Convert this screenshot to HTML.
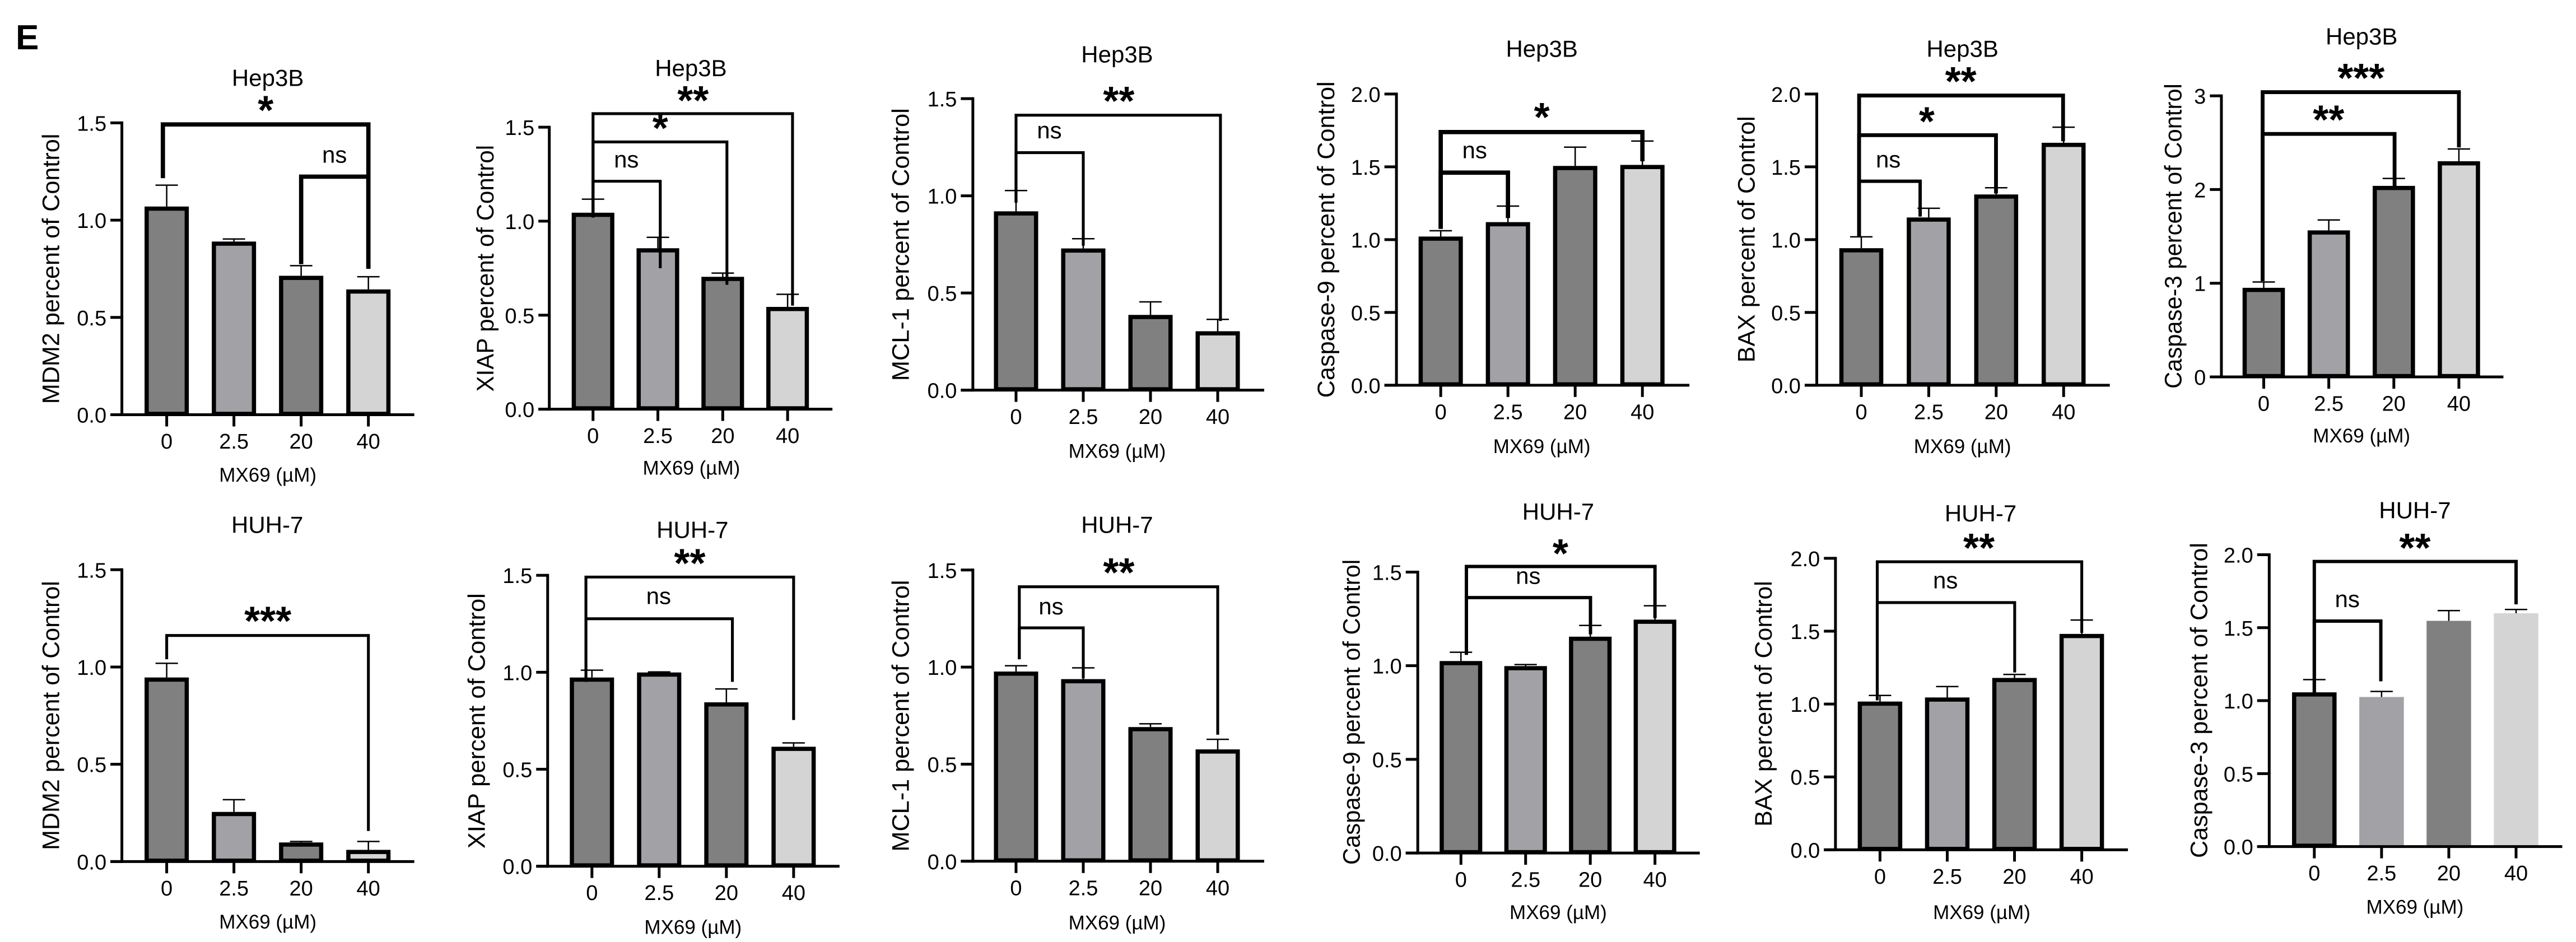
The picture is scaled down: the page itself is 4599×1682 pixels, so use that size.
<!DOCTYPE html>
<html lang="en">
<head>
<meta charset="utf-8">
<title>MX69 protein expression bar charts</title>
<style>
html,body{margin:0;padding:0;background:#fff;}
svg{display:block;}
text{font-family:"Liberation Sans",sans-serif;fill:#000;}
</style>
</head>
<body>
<svg id="figure" xmlns="http://www.w3.org/2000/svg" width="4599" height="1682" viewBox="0 0 4599 1682">
<rect x="0" y="0" width="4599" height="1682" fill="#ffffff"/>
<text x="28" y="88" font-size="62" font-weight="700">E</text>
</svg>
<script>
/* ---------- chart data ---------- */
const categories = ['0', '2.5', '20', '40'];
const ticks15 = ['0.0', '0.5', '1.0', '1.5'];
const ticks20 = ['0.0', '0.5', '1.0', '1.5', '2.0'];
const ticks3 = ['0', '1', '2', '3'];

const mdm2Hep3bValues = [1.07, 0.89, 0.714, 0.644];
const mdm2Hep3bErrors = [0.11, 0.013, 0.052, 0.065];
const xiapHep3bValues = [1.045, 0.856, 0.704, 0.544];
const xiapHep3bErrors = [0.072, 0.058, 0.02, 0.067];
const mcl1Hep3bValues = [0.92, 0.729, 0.387, 0.303];
const mcl1Hep3bErrors = [0.107, 0.05, 0.067, 0.061];
const casp9Hep3bValues = [1.021, 1.12, 1.506, 1.513];
const casp9Hep3bErrors = [0.04, 0.11, 0.129, 0.164];
const baxHep3bValues = [0.941, 1.152, 1.31, 1.665];
const baxHep3bErrors = [0.078, 0.063, 0.046, 0.107];
const casp3Hep3bValues = [0.951, 1.564, 2.039, 2.302];
const casp3Hep3bErrors = [0.062, 0.111, 0.079, 0.131];

const mdm2Huh7Values = [0.946, 0.255, 0.098, 0.06];
const mdm2Huh7Errors = [0.073, 0.063, 0.005, 0.043];
const xiapHuh7Values = [0.973, 0.999, 0.845, 0.616];
const xiapHuh7Errors = [0.038, 0.003, 0.069, 0.02];
const mcl1Huh7Values = [0.977, 0.938, 0.691, 0.576];
const mcl1Huh7Errors = [0.03, 0.058, 0.017, 0.052];
const casp9Huh7Values = [1.025, 0.998, 1.155, 1.246];
const casp9Huh7Errors = [0.047, 0.008, 0.06, 0.074];
const baxHuh7Values = [1.017, 1.045, 1.179, 1.481];
const baxHuh7Errors = [0.042, 0.075, 0.024, 0.095];
const casp3Huh7Values = [1.057, 1.025, 1.547, 1.599];
const casp3Huh7Errors = [0.087, 0.038, 0.07, 0.026];

const barFills = ['#808080', '#a1a1a6', '#808080', '#d4d4d4'];

/* ---------- layout frames (not data) ---------- */
const frames = {
  A: {ox: 0, oy: 0, sx: 0.9758, sy: 0.5485},
  B: {ox: 1530, oy: 0, sx: 0.9758, sy: 0.5485},
  C: {ox: 3060, oy: 0, sx: 0.9815, sy: 0.5485},
  D: {ox: 0, oy: 860, sx: 0.9758, sy: 0.5242},
  E: {ox: 1530, oy: 860, sx: 0.9758, sy: 0.5242},
  F: {ox: 3060, oy: 860, sx: 0.9815, sy: 0.5242}
};

const panels = [
  {id: 'mdm2-hep3b', f: 'A', title: 'Hep3B', yLabel: 'MDM2 percent of Control', values: mdm2Hep3bValues, errors: mdm2Hep3bErrors, ticks: ticks15, ymax: 1.5,
   ax: 223, tl: 202, y0: 1350, yt: 400, c0: 305, c3: 674, xEnd: 758, bw: 81, tb: 280, tx: 490, lb: 108, l1: 435, l2: 1315, xc: 490, xb: 1568,
   brackets: [[298, 674, 405, 580, 875, 9], [551, 674, 575, 860, 875, 9]],
   labels: [['*', 486, 342], ['ns', 612, 530]]},
  {id: 'xiap-hep3b', f: 'A', title: 'Hep3B', yLabel: 'XIAP percent of Control', values: xiapHep3bValues, errors: xiapHep3bErrors, ticks: ticks15, ymax: 1.5,
   ax: 1005, tl: 985, y0: 1332, yt: 414, c0: 1085, c3: 1441, xEnd: 1523, bw: 78, tb: 248, tx: 1264, lb: 903, l1: 472, l2: 1275, xc: 1265, xb: 1545,
   brackets: [[1085, 1450, 370, 708, 995, 6], [1085, 1330, 462, 708, 927, 6], [1085, 1208, 590, 708, 873, 6]],
   labels: [['**', 1268, 310], ['*', 1208, 400], ['ns', 1146, 545]]},
  {id: 'mcl1-hep3b', f: 'B', title: 'Hep3B', yLabel: 'MCL-1 percent of Control', values: mcl1Hep3bValues, errors: mcl1Hep3bErrors, ticks: ticks15, ymax: 1.5,
   ax: 212, tl: 190, y0: 1270, yt: 321, c0: 291, c3: 660, xEnd: 745, bw: 81, tb: 203, tx: 476, lb: 95, l1: 352, l2: 1240, xc: 476, xb: 1490,
   brackets: [[291, 665, 375, 660, 1045, 6], [291, 414, 497, 660, 800, 6]],
   labels: [['**', 479, 312], ['ns', 352, 450]]},
  {id: 'caspase9-hep3b', f: 'B', title: 'Hep3B', yLabel: 'Caspase-9 percent of Control', values: casp9Hep3bValues, errors: casp9Hep3bErrors, ticks: ticks20, ymax: 2,
   ax: 987, tl: 965, y0: 1254, yt: 306, c0: 1068, c3: 1437, xEnd: 1523, bw: 81, tb: 185, tx: 1253, lb: 873, l1: 265, l2: 1295, xc: 1253, xb: 1475,
   brackets: [[1068, 1437, 430, 745, 525, 9], [1068, 1191, 562, 745, 710, 9]],
   labels: [['*', 1253, 365], ['ns', 1130, 515]]},
  {id: 'bax-hep3b', f: 'C', title: 'Hep3B', yLabel: 'BAX percent of Control', values: baxHep3bValues, errors: baxHep3bErrors, ticks: ticks20, ymax: 2,
   ax: 187, tl: 165, y0: 1254, yt: 306, c0: 268, c3: 636, xEnd: 720, bw: 80, tb: 185, tx: 452, lb: 74, l1: 378, l2: 1180, xc: 452, xb: 1475,
   brackets: [[264, 635, 311, 770, 460, 8], [264, 513, 440, 770, 630, 8], [264, 375, 590, 770, 705, 7]],
   labels: [['**', 449, 248], ['*', 387, 378], ['ns', 317, 545]]},
  {id: 'caspase3-hep3b', f: 'C', title: 'Hep3B', yLabel: 'Caspase-3 percent of Control', values: casp3Hep3bValues, errors: casp3Hep3bErrors, ticks: ticks3, ymax: 3,
   ax: 923, tl: 902, y0: 1227, yt: 312, c0: 1000, c3: 1355, xEnd: 1436, bw: 77, tb: 145, tx: 1178, lb: 850, l1: 272, l2: 1265, xc: 1178, xb: 1440,
   brackets: [[998, 1355, 300, 915, 480, 8], [998, 1238, 436, 915, 615, 8]],
   labels: [['***', 1177, 237], ['**', 1118, 373]]},
  {id: 'mdm2-huh7', f: 'D', title: 'HUH-7', yLabel: 'MDM2 percent of Control', values: mdm2Huh7Values, errors: mdm2Huh7Errors, ticks: ticks15, ymax: 1.5,
   ax: 223, tl: 202, y0: 1294, yt: 300, c0: 305, c3: 674, xEnd: 758, bw: 81, tb: 175, tx: 489, lb: 108, l1: 338, l2: 1255, xc: 490, xb: 1522,
   brackets: [[305, 674, 524, 605, 1190, 6]],
   labels: [['***', 490, 457]]},
  {id: 'xiap-huh7', f: 'D', title: 'HUH-7', yLabel: 'XIAP percent of Control', values: xiapHuh7Values, errors: xiapHuh7Errors, ticks: ticks15, ymax: 1.5,
   ax: 1002, tl: 981, y0: 1310, yt: 319, c0: 1083, c3: 1452, xEnd: 1536, bw: 81, tb: 192, tx: 1267, lb: 887, l1: 380, l2: 1250, xc: 1268, xb: 1540,
   brackets: [[1072, 1452, 325, 682, 812, 6], [1072, 1340, 467, 682, 682, 6]],
   labels: [['**', 1262, 260], ['ns', 1205, 417]]},
  {id: 'mcl1-huh7', f: 'E', title: 'HUH-7', yLabel: 'MCL-1 percent of Control', values: mcl1Huh7Values, errors: mcl1Huh7Errors, ticks: ticks15, ymax: 1.5,
   ax: 212, tl: 190, y0: 1293, yt: 301, c0: 291, c3: 660, xEnd: 745, bw: 81, tb: 175, tx: 476, lb: 95, l1: 335, l2: 1260, xc: 476, xb: 1525,
   brackets: [[297, 660, 358, 605, 862, 6], [297, 414, 498, 605, 670, 6]],
   labels: [['**', 479, 292], ['ns', 355, 452]]},
  {id: 'caspase9-huh7', f: 'E', title: 'HUH-7', yLabel: 'Caspase-9 percent of Control', values: casp9Huh7Values, errors: casp9Huh7Errors, ticks: ticks15, ymax: 1.5,
   ax: 1026, tl: 1004, y0: 1265, yt: 308, c0: 1105, c3: 1460, xEnd: 1542, bw: 78, tb: 130, tx: 1283, lb: 920, l1: 265, l2: 1305, xc: 1283, xb: 1490,
   brackets: [[1115, 1460, 289, 590, 465, 7], [1115, 1342, 395, 590, 520, 7]],
   labels: [['*', 1287, 227], ['ns', 1228, 348]]},
  {id: 'bax-huh7', f: 'F', title: 'HUH-7', yLabel: 'BAX percent of Control', values: baxHuh7Values, errors: baxHuh7Errors, ticks: ticks20, ymax: 2,
   ax: 221, tl: 200, y0: 1254, yt: 261, c0: 302, c3: 669, xEnd: 753, bw: 81, tb: 135, tx: 485, lb: 105, l1: 338, l2: 1175, xc: 487, xb: 1490,
   brackets: [[297, 669, 273, 745, 515, 6], [297, 547, 412, 745, 650, 6]],
   labels: [['**', 482, 208], ['ns', 421, 363]]},
  {id: 'caspase3-huh7', f: 'F', title: 'HUH-7', yLabel: 'Caspase-3 percent of Control', values: casp3Huh7Values, errors: casp3Huh7Errors, ticks: ticks20, ymax: 2,
   ax: 1010, tl: 988, y0: 1243, yt: 249, c0: 1092, c3: 1459, xEnd: 1543, bw: 81, tb: 125, tx: 1275, lb: 897, l1: 208, l2: 1282, xc: 1275, xb: 1472,
   brackets: [[1092, 1459, 272, 720, 418, 7], [1092, 1213, 475, 720, 680, 7]],
   labels: [['**', 1275, 208], ['ns', 1152, 427]], outlineOnlyFirst: true}
];

/* ---------- drawing ---------- */
const NS = 'http://www.w3.org/2000/svg';
const root = document.getElementById('figure');
const BLACK = '#000000';

function make(parent, tag, attrs, txt) {
  const node = document.createElementNS(NS, tag);
  for (const k in attrs) node.setAttribute(k, attrs[k]);
  if (txt !== undefined) node.textContent = txt;
  parent.appendChild(node);
  return node;
}

panels.forEach(function (p) {
  const fr = frames[p.f];
  const X = function (z) { return fr.ox + z * fr.sx; };
  const Y = function (z) { return fr.oy + z * fr.sy; };
  const yScale = function (v) { return Y(p.y0) + (Y(p.yt) - Y(p.y0)) * v / p.ymax; };
  const xScale = function (i) { return X(p.c0) + i * (X(p.c3) - X(p.c0)) / (categories.length - 1); };
  const base = Y(p.y0);
  const axisX = X(p.ax);

  const g = make(root, 'g', {});
  
  

  const title = make(g, 'text', {x: X(p.tx), y: Y(p.tb), 'font-size': 42, 'text-anchor': 'middle'}, p.title);
  
  

  const ylMid = (Y(p.l1) + Y(p.l2)) / 2;
  const ylLen = Y(p.l2) - Y(p.l1);
  const yl = make(g, 'text', {
    transform: 'translate(' + X(p.lb) + ' ' + ylMid + ') rotate(-90)',
    'font-size': 43, 'text-anchor': 'middle', textLength: ylLen, lengthAdjust: 'spacingAndGlyphs'
  }, p.yLabel);
  
  

  const xl = make(g, 'text', {x: X(p.xc), y: Y(p.xb), 'font-size': 35, 'text-anchor': 'middle'}, 'MX69 (\u00B5M)');
  
  

  /* error bars sit behind the bars */
  categories.forEach(function (cat, i) {
    const cx = xScale(i);
    const top = yScale(p.values[i] + p.errors[i]);
    const stem = make(g, 'line', {x1: cx, x2: cx, y1: yScale(p.values[i]), y2: top, stroke: BLACK, 'stroke-width': 2.5});
    
    
    const cap = make(g, 'line', {x1: cx - 20, x2: cx + 20, y1: top, y2: top, stroke: BLACK, 'stroke-width': 2.5});
    
    
  });

  /* bars */
  const w = p.bw * fr.sx;
  const sw = 7.5;
  categories.forEach(function (cat, i) {
    const cx = xScale(i);
    const top = yScale(p.values[i]);
    const outlined = !p.outlineOnlyFirst || i === 0;
    const inset = outlined ? sw / 2 : 0;
    const bar = make(g, 'rect', {
      x: cx - w / 2 + inset, y: top + inset,
      width: w - 2 * inset, height: Math.max(0, base - top - inset - (outlined ? 1.5 : 0)),
      fill: barFills[i], stroke: outlined ? BLACK : 'none', 'stroke-width': outlined ? sw : 0
    });
    
    
  });

  /* axes */
  const yAxis = make(g, 'line', {x1: axisX, x2: axisX, y1: Y(p.yt) - 2.5, y2: base + 2.5, stroke: BLACK, 'stroke-width': 5});
  
  
  const xAxis = make(g, 'line', {x1: X(p.tl), x2: X(p.xEnd), y1: base, y2: base, stroke: BLACK, 'stroke-width': 5});
  
  

  p.ticks.forEach(function (label) {
    const ty = yScale(parseFloat(label));
    const t = make(g, 'line', {x1: X(p.tl), x2: axisX, y1: ty, y2: ty, stroke: BLACK, 'stroke-width': 5});
    
    
    const tl = make(g, 'text', {x: X(p.tl) - 7, y: ty + 14, 'font-size': 38, 'text-anchor': 'end'}, label);
    
    
  });

  categories.forEach(function (cat, i) {
    const cx = xScale(i);
    const t = make(g, 'line', {x1: cx, x2: cx, y1: base, y2: base + 21, stroke: BLACK, 'stroke-width': 5});
    
    
    const tl = make(g, 'text', {x: cx, y: base + 60.5, 'font-size': 38, 'text-anchor': 'middle'}, cat);
    
    
  });

  /* significance annotations */
  p.brackets.forEach(function (b) {
    const pts = [X(b[0]) + ',' + Y(b[3]), X(b[0]) + ',' + Y(b[2]), X(b[1]) + ',' + Y(b[2]), X(b[1]) + ',' + Y(b[4])].join(' ');
    const br = make(g, 'polyline', {points: pts, fill: 'none', stroke: BLACK, 'stroke-width': b[5] * 0.85, 'stroke-linejoin': 'miter'});
    
    
  });

  p.labels.forEach(function (l) {
    const isStar = l[0].charAt(0) === '*';
    const a = isStar
      ? {x: X(l[1]), y: Y(l[2]) + 34, 'font-size': 72, 'font-weight': 700, 'text-anchor': 'middle'}
      : {x: X(l[1]), y: Y(l[2]), 'font-size': 42, 'text-anchor': 'middle'};
    const lab = make(g, 'text', a, l[0]);
    
    
  });
});
</script>
</body>
</html>
